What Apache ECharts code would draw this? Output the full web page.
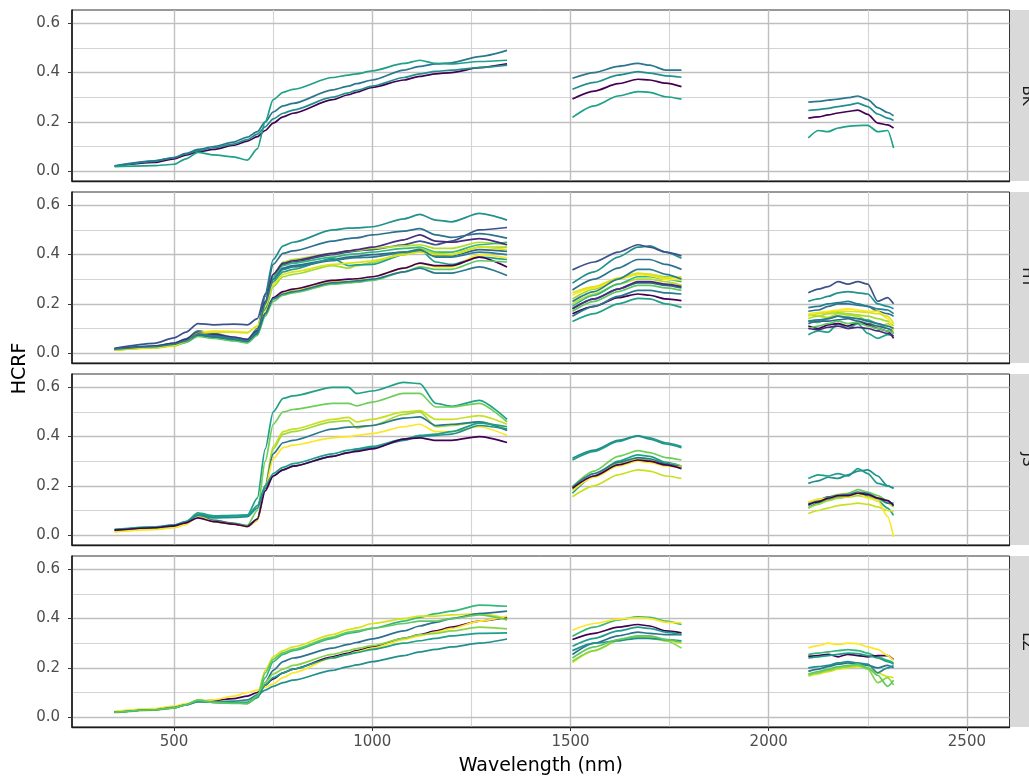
<!DOCTYPE html>
<html>
<head>
<meta charset="utf-8">
<script src="https://cdn.jsdelivr.net/npm/echarts@6/dist/echarts.min.js"></script>
<style>
  html, body { margin: 0; padding: 0; background: #ffffff; }
  #chart { width: 1029px; height: 780px; }
</style>
</head>
<body>
<div id="chart"></div>
<script>
// ---- wavelength sampling of the three usable spectral windows (nm) ----
const WL_VNIR  = [350, 450, 500, 530, 560, 600, 650, 685, 710, 730, 750, 775, 800, 900, 940, 960, 1000, 1080, 1120, 1160, 1200, 1270, 1340];
const WL_SWIR1 = [1505, 1560, 1620, 1670, 1700, 1740, 1780];
const WL_SWIR2 = [2100, 2125, 2150, 2175, 2200, 2225, 2250, 2275, 2300, 2315];

// ---- facets and axis ticks ----
const SITES = ['BK', 'HY', 'JS', 'LZ'];
const X_TICKS = [500, 1000, 1500, 2000, 2500];
const X_MINOR = [750, 1250, 1750, 2250];
const Y_TICKS = [0, 0.2, 0.4, 0.6];
const Y_MINOR = [0.1, 0.3, 0.5];

// ---- BK ----
const BK_COLORS = ['#440154', '#21908c', '#2a788e', '#1fa187'];
const BK_VNIR = [
  [0.02, 0.035, 0.05, 0.065, 0.078, 0.088, 0.105, 0.122, 0.14, 0.165, 0.195, 0.22, 0.235, 0.29, 0.31, 0.32, 0.34, 0.37, 0.385, 0.395, 0.4, 0.42, 0.435],
  [0.02, 0.04, 0.055, 0.07, 0.083, 0.095, 0.11, 0.128, 0.15, 0.18, 0.212, 0.235, 0.248, 0.3, 0.318, 0.328, 0.345, 0.38, 0.395, 0.405, 0.41, 0.42, 0.43],
  [0.022, 0.042, 0.055, 0.072, 0.088, 0.1, 0.118, 0.138, 0.16, 0.2, 0.24, 0.265, 0.275, 0.33, 0.345, 0.355, 0.37, 0.41, 0.425, 0.435, 0.44, 0.465, 0.49],
  [0.018, 0.022, 0.028, 0.05, 0.076, 0.066, 0.058, 0.045, 0.09, 0.2, 0.29, 0.32, 0.332, 0.38, 0.39, 0.395, 0.407, 0.437, 0.45, 0.437, 0.435, 0.445, 0.45]
];
const BK_SWIR1 = [
  [0.293, 0.325, 0.355, 0.373, 0.37, 0.357, 0.343],
  [0.332, 0.36, 0.39, 0.404, 0.398, 0.387, 0.381],
  [0.377, 0.4, 0.425, 0.437, 0.43, 0.41, 0.41],
  [0.218, 0.265, 0.305, 0.323, 0.32, 0.302, 0.292]
];
const BK_SWIR2 = [
  [0.215, 0.22, 0.228, 0.236, 0.242, 0.248, 0.23, 0.195, 0.188, 0.175],
  [0.246, 0.25, 0.255, 0.262, 0.268, 0.276, 0.262, 0.232, 0.215, 0.206],
  [0.28, 0.283, 0.288, 0.292, 0.298, 0.305, 0.29, 0.258, 0.238, 0.225],
  [0.135, 0.165, 0.16, 0.175, 0.182, 0.185, 0.186, 0.16, 0.165, 0.094]
];

// ---- HY ----
const HY_COLORS = ['#21918c', '#3b528b', '#2c728e', '#b5de2b', '#35b779', '#31688e', '#a0da39', '#1fa187',
                   '#fde725', '#440154', '#5ec962', '#2a788e', '#472d7b', '#dde318', '#287d8e'];
const HY_VNIR = [
  [0.018, 0.03, 0.04, 0.058, 0.09, 0.08, 0.065, 0.055, 0.1, 0.24, 0.38, 0.435, 0.45, 0.5, 0.507, 0.508, 0.513, 0.545, 0.563, 0.54, 0.533, 0.567, 0.54],
  [0.02, 0.04, 0.062, 0.085, 0.12, 0.115, 0.118, 0.115, 0.14, 0.24, 0.32, 0.36, 0.37, 0.4, 0.41, 0.415, 0.42, 0.44, 0.455, 0.44, 0.455, 0.5, 0.51],
  [0.018, 0.028, 0.04, 0.055, 0.085, 0.075, 0.062, 0.05, 0.09, 0.23, 0.36, 0.405, 0.415, 0.455, 0.465, 0.468, 0.48, 0.495, 0.505, 0.48, 0.47, 0.485, 0.467],
  [0.015, 0.025, 0.035, 0.05, 0.078, 0.07, 0.058, 0.05, 0.085, 0.2, 0.32, 0.37, 0.38, 0.405, 0.415, 0.418, 0.425, 0.435, 0.44, 0.425, 0.425, 0.45, 0.44],
  [0.014, 0.024, 0.033, 0.048, 0.075, 0.066, 0.055, 0.045, 0.08, 0.19, 0.31, 0.355, 0.365, 0.39, 0.4, 0.403, 0.41, 0.425, 0.43, 0.41, 0.41, 0.44, 0.45],
  [0.016, 0.026, 0.036, 0.05, 0.08, 0.07, 0.06, 0.052, 0.088, 0.2, 0.3, 0.345, 0.355, 0.38, 0.39, 0.393, 0.4, 0.41, 0.415, 0.395, 0.395, 0.42, 0.413],
  [0.013, 0.022, 0.03, 0.045, 0.072, 0.065, 0.055, 0.046, 0.075, 0.17, 0.27, 0.31, 0.32, 0.355, 0.345, 0.355, 0.368, 0.405, 0.425, 0.405, 0.4, 0.43, 0.43],
  [0.014, 0.022, 0.03, 0.045, 0.07, 0.062, 0.052, 0.044, 0.075, 0.18, 0.29, 0.33, 0.34, 0.385, 0.355, 0.358, 0.36, 0.4, 0.42, 0.37, 0.36, 0.39, 0.38],
  [0.012, 0.02, 0.028, 0.05, 0.085, 0.09, 0.088, 0.085, 0.11, 0.17, 0.22, 0.245, 0.255, 0.29, 0.29, 0.3, 0.31, 0.345, 0.365, 0.35, 0.35, 0.4, 0.387],
  [0.015, 0.025, 0.035, 0.048, 0.072, 0.066, 0.058, 0.05, 0.08, 0.16, 0.225, 0.25, 0.26, 0.295, 0.3, 0.302, 0.31, 0.345, 0.365, 0.355, 0.355, 0.39, 0.35],
  [0.013, 0.022, 0.03, 0.044, 0.068, 0.06, 0.05, 0.042, 0.072, 0.15, 0.21, 0.235, 0.245, 0.28, 0.285, 0.288, 0.295, 0.33, 0.35, 0.34, 0.34, 0.375, 0.37],
  [0.015, 0.025, 0.034, 0.048, 0.074, 0.066, 0.056, 0.048, 0.08, 0.16, 0.22, 0.24, 0.25, 0.285, 0.29, 0.293, 0.3, 0.33, 0.345, 0.325, 0.325, 0.35, 0.315],
  [0.017, 0.028, 0.04, 0.056, 0.085, 0.076, 0.064, 0.056, 0.09, 0.21, 0.32, 0.365, 0.375, 0.405, 0.415, 0.42, 0.43, 0.46, 0.48, 0.455, 0.45, 0.465, 0.44],
  [0.012, 0.022, 0.03, 0.048, 0.08, 0.085, 0.085, 0.082, 0.11, 0.19, 0.28, 0.32, 0.33, 0.36, 0.365, 0.368, 0.375, 0.4, 0.41, 0.4, 0.4, 0.43, 0.42],
  [0.016, 0.026, 0.036, 0.05, 0.078, 0.07, 0.06, 0.05, 0.085, 0.2, 0.3, 0.34, 0.35, 0.375, 0.385, 0.388, 0.39, 0.41, 0.42, 0.39, 0.39, 0.41, 0.4]
];
const HY_SWIR1 = [
  [0.284, 0.33, 0.39, 0.43, 0.435, 0.41, 0.385],
  [0.338, 0.37, 0.41, 0.44, 0.43, 0.41, 0.395],
  [0.256, 0.3, 0.345, 0.38, 0.38, 0.36, 0.34],
  [0.2, 0.24, 0.28, 0.3, 0.3, 0.29, 0.275],
  [0.19, 0.235, 0.28, 0.31, 0.31, 0.3, 0.29],
  [0.18, 0.22, 0.26, 0.285, 0.285, 0.275, 0.265],
  [0.22, 0.26, 0.3, 0.32, 0.32, 0.31, 0.305],
  [0.128, 0.16, 0.2, 0.222, 0.22, 0.2, 0.186],
  [0.236, 0.265, 0.3, 0.32, 0.315, 0.3, 0.297],
  [0.16, 0.19, 0.225, 0.24, 0.235, 0.22, 0.213],
  [0.17, 0.21, 0.25, 0.275, 0.275, 0.265, 0.255],
  [0.15, 0.19, 0.23, 0.255, 0.255, 0.245, 0.24],
  [0.18, 0.22, 0.26, 0.29, 0.29, 0.28, 0.27],
  [0.245, 0.27, 0.305, 0.325, 0.32, 0.305, 0.31],
  [0.21, 0.25, 0.3, 0.34, 0.34, 0.32, 0.3]
];
const HY_SWIR2 = [
  [0.21, 0.22, 0.23, 0.245, 0.25, 0.245, 0.24, 0.2, 0.19, 0.18],
  [0.245, 0.26, 0.27, 0.29, 0.28, 0.29, 0.28, 0.21, 0.225, 0.2],
  [0.17, 0.175, 0.19, 0.2, 0.2, 0.195, 0.19, 0.17, 0.16, 0.15],
  [0.14, 0.15, 0.145, 0.16, 0.155, 0.15, 0.13, 0.1, 0.12, 0.1],
  [0.13, 0.125, 0.14, 0.15, 0.145, 0.14, 0.135, 0.12, 0.1, 0.08],
  [0.12, 0.13, 0.13, 0.135, 0.14, 0.13, 0.12, 0.11, 0.1, 0.09],
  [0.155, 0.15, 0.16, 0.165, 0.16, 0.155, 0.15, 0.14, 0.13, 0.11],
  [0.075, 0.09, 0.085, 0.12, 0.1, 0.12, 0.08, 0.06, 0.075, 0.07],
  [0.16, 0.165, 0.17, 0.175, 0.18, 0.175, 0.17, 0.17, 0.14, 0.09],
  [0.11, 0.1, 0.115, 0.12, 0.11, 0.125, 0.115, 0.1, 0.09, 0.06],
  [0.1, 0.11, 0.12, 0.13, 0.12, 0.125, 0.11, 0.1, 0.09, 0.08],
  [0.13, 0.135, 0.14, 0.15, 0.145, 0.14, 0.13, 0.12, 0.11, 0.1],
  [0.1, 0.095, 0.105, 0.11, 0.1, 0.105, 0.1, 0.09, 0.08, 0.07],
  [0.15, 0.16, 0.165, 0.17, 0.17, 0.168, 0.165, 0.16, 0.15, 0.12],
  [0.185, 0.19, 0.2, 0.205, 0.21, 0.2, 0.19, 0.18, 0.175, 0.16]
];

// ---- JS ----
const JS_COLORS = ['#1fa187', '#6ece58', '#c8e020', '#a0da39', '#2a788e', '#fde725', '#1f9e89', '#21908c', '#440154'];
const JS_VNIR = [
  [0.022, 0.032, 0.04, 0.055, 0.09, 0.078, 0.08, 0.082, 0.15, 0.35, 0.5, 0.555, 0.565, 0.6, 0.6, 0.575, 0.585, 0.62, 0.615, 0.535, 0.523, 0.547, 0.47],
  [0.018, 0.028, 0.035, 0.05, 0.085, 0.06, 0.048, 0.04, 0.1, 0.3, 0.45, 0.5, 0.51, 0.535, 0.535, 0.525, 0.54, 0.575, 0.575, 0.52, 0.52, 0.535, 0.46],
  [0.015, 0.025, 0.032, 0.045, 0.08, 0.055, 0.045, 0.035, 0.06, 0.2, 0.36, 0.42, 0.43, 0.47, 0.478, 0.46, 0.47, 0.5, 0.505, 0.47, 0.47, 0.485, 0.45],
  [0.015, 0.025, 0.032, 0.045, 0.08, 0.055, 0.045, 0.035, 0.06, 0.2, 0.35, 0.41, 0.42, 0.46, 0.465, 0.435, 0.445, 0.49, 0.5, 0.44, 0.445, 0.46, 0.43],
  [0.02, 0.03, 0.038, 0.05, 0.082, 0.06, 0.048, 0.038, 0.065, 0.2, 0.33, 0.375, 0.385, 0.43, 0.438, 0.44, 0.445, 0.475, 0.48, 0.445, 0.45, 0.46, 0.425],
  [0.013, 0.022, 0.03, 0.044, 0.078, 0.055, 0.045, 0.035, 0.06, 0.19, 0.31, 0.355, 0.365, 0.395, 0.4, 0.405, 0.412, 0.44, 0.45, 0.42, 0.42, 0.44, 0.405],
  [0.024, 0.034, 0.042, 0.055, 0.085, 0.075, 0.078, 0.078, 0.12, 0.2, 0.25, 0.275, 0.29, 0.33, 0.345, 0.35, 0.36, 0.39, 0.405, 0.41, 0.42, 0.455, 0.44],
  [0.022, 0.032, 0.04, 0.052, 0.08, 0.07, 0.072, 0.075, 0.11, 0.19, 0.24, 0.265, 0.28, 0.32, 0.335, 0.345, 0.355, 0.385, 0.4, 0.405, 0.41, 0.445, 0.43],
  [0.02, 0.03, 0.038, 0.05, 0.07, 0.055, 0.045, 0.035, 0.065, 0.18, 0.24, 0.265, 0.28, 0.32, 0.335, 0.34, 0.35, 0.39, 0.395, 0.385, 0.385, 0.4, 0.376]
];
const JS_SWIR1 = [
  [0.17, 0.24, 0.3, 0.326, 0.32, 0.295, 0.28],
  [0.197, 0.26, 0.32, 0.343, 0.335, 0.315, 0.305],
  [0.156, 0.2, 0.245, 0.265, 0.26, 0.24, 0.23],
  [0.185, 0.24, 0.29, 0.31, 0.305, 0.29, 0.28],
  [0.195, 0.25, 0.295, 0.315, 0.31, 0.29, 0.275],
  [0.18, 0.235, 0.28, 0.3, 0.295, 0.28, 0.275],
  [0.305, 0.34, 0.38, 0.403, 0.395, 0.375, 0.36],
  [0.312, 0.345, 0.385, 0.403, 0.39, 0.37, 0.355],
  [0.19, 0.24, 0.285, 0.305, 0.3, 0.285, 0.27]
];
const JS_SWIR2 = [
  [0.11, 0.13, 0.145, 0.155, 0.16, 0.17, 0.16, 0.14, 0.11, 0.08],
  [0.13, 0.145, 0.155, 0.165, 0.17, 0.185, 0.175, 0.16, 0.14, 0.12],
  [0.088, 0.1, 0.11, 0.12, 0.125, 0.13, 0.125, 0.115, 0.1, 0.095],
  [0.11, 0.125, 0.14, 0.15, 0.155, 0.16, 0.155, 0.145, 0.13, 0.115],
  [0.12, 0.14, 0.155, 0.16, 0.165, 0.175, 0.17, 0.15, 0.13, 0.13],
  [0.135, 0.145, 0.15, 0.16, 0.155, 0.17, 0.15, 0.14, 0.075, -0.007],
  [0.23, 0.245, 0.24, 0.25, 0.24, 0.27, 0.25, 0.21, 0.2, 0.19],
  [0.21, 0.22, 0.235, 0.23, 0.245, 0.26, 0.265, 0.24, 0.2, 0.19],
  [0.125, 0.135, 0.15, 0.16, 0.16, 0.17, 0.165, 0.15, 0.14, 0.12]
];

// ---- LZ ----
const LZ_COLORS = ['#35b779', '#d8e219', '#2c728e', '#440154', '#fde725', '#86d549', '#1f9e89', '#21908c', '#5ec962'];
const LZ_VNIR = [
  [0.02, 0.03, 0.038, 0.05, 0.068, 0.06, 0.058, 0.056, 0.08, 0.16, 0.225, 0.255, 0.27, 0.32, 0.34, 0.345, 0.36, 0.39, 0.405, 0.42, 0.43, 0.455, 0.45],
  [0.02, 0.03, 0.038, 0.05, 0.07, 0.062, 0.06, 0.058, 0.09, 0.19, 0.245, 0.27, 0.285, 0.335, 0.355, 0.362, 0.38, 0.4, 0.41, 0.41, 0.415, 0.42, 0.4],
  [0.022, 0.032, 0.04, 0.05, 0.065, 0.062, 0.06, 0.06, 0.08, 0.14, 0.19, 0.225, 0.24, 0.28, 0.295, 0.303, 0.318, 0.35, 0.37, 0.385, 0.4, 0.42, 0.43],
  [0.02, 0.03, 0.04, 0.052, 0.065, 0.068, 0.075, 0.085, 0.1, 0.13, 0.155, 0.18, 0.195, 0.245, 0.26, 0.27, 0.285, 0.32, 0.335, 0.35, 0.365, 0.39, 0.405],
  [0.025, 0.035, 0.045, 0.055, 0.062, 0.07, 0.085, 0.1, 0.11, 0.122, 0.135, 0.16, 0.18, 0.24, 0.255, 0.265, 0.28, 0.315, 0.33, 0.345, 0.36, 0.39, 0.41],
  [0.018, 0.028, 0.036, 0.05, 0.07, 0.062, 0.058, 0.056, 0.08, 0.14, 0.175, 0.195, 0.21, 0.255, 0.27, 0.278, 0.29, 0.32, 0.335, 0.34, 0.35, 0.365, 0.358],
  [0.02, 0.03, 0.038, 0.05, 0.065, 0.06, 0.058, 0.058, 0.08, 0.13, 0.16, 0.18, 0.195, 0.24, 0.255, 0.262, 0.275, 0.3, 0.31, 0.32, 0.33, 0.34, 0.342],
  [0.02, 0.03, 0.04, 0.05, 0.062, 0.062, 0.065, 0.07, 0.09, 0.11, 0.125, 0.14, 0.15, 0.19, 0.205, 0.212, 0.225, 0.25, 0.265, 0.275, 0.285, 0.3, 0.317],
  [0.02, 0.03, 0.038, 0.05, 0.068, 0.06, 0.056, 0.055, 0.085, 0.18, 0.235, 0.262, 0.275, 0.325, 0.345, 0.35, 0.36, 0.38, 0.39, 0.39, 0.4, 0.415, 0.395]
];
const LZ_SWIR1 = [
  [0.328, 0.365, 0.395, 0.407, 0.405, 0.39, 0.376],
  [0.222, 0.27, 0.31, 0.328, 0.325, 0.31, 0.3],
  [0.254, 0.3, 0.33, 0.345, 0.34, 0.335, 0.335],
  [0.315, 0.34, 0.365, 0.376, 0.37, 0.35, 0.342],
  [0.353, 0.38, 0.398, 0.403, 0.4, 0.385, 0.383],
  [0.227, 0.27, 0.31, 0.325, 0.32, 0.31, 0.28],
  [0.288, 0.32, 0.35, 0.365, 0.36, 0.345, 0.335],
  [0.27, 0.3, 0.31, 0.32, 0.32, 0.315, 0.31],
  [0.24, 0.285, 0.315, 0.33, 0.33, 0.315, 0.305]
];
const LZ_SWIR2 = [
  [0.254, 0.26, 0.265, 0.27, 0.274, 0.27, 0.26, 0.245, 0.23, 0.22],
  [0.166, 0.175, 0.185, 0.195, 0.2, 0.205, 0.2, 0.18, 0.165, 0.16],
  [0.186, 0.195, 0.205, 0.215, 0.22, 0.215, 0.21, 0.2, 0.21, 0.2],
  [0.247, 0.25, 0.255, 0.245, 0.255, 0.25, 0.245, 0.25, 0.25, 0.233],
  [0.281, 0.29, 0.3, 0.295, 0.3, 0.298, 0.285, 0.275, 0.25, 0.23],
  [0.17, 0.18, 0.19, 0.2, 0.205, 0.21, 0.195, 0.14, 0.16, 0.13],
  [0.24, 0.245, 0.25, 0.255, 0.26, 0.258, 0.25, 0.24, 0.225, 0.215],
  [0.2, 0.205, 0.21, 0.22, 0.225, 0.22, 0.215, 0.18, 0.2, 0.21],
  [0.175, 0.185, 0.195, 0.205, 0.21, 0.215, 0.2, 0.17, 0.125, 0.15]
];

const SITE_DATA = [
  { colors: BK_COLORS, vnir: BK_VNIR, swir1: BK_SWIR1, swir2: BK_SWIR2 },
  { colors: HY_COLORS, vnir: HY_VNIR, swir1: HY_SWIR1, swir2: HY_SWIR2 },
  { colors: JS_COLORS, vnir: JS_VNIR, swir1: JS_SWIR1, swir2: JS_SWIR2 },
  { colors: LZ_COLORS, vnir: LZ_VNIR, swir1: LZ_SWIR1, swir2: LZ_SWIR2 }
];

// ---- layout ----
const PANEL_LEFT = 72;
const PANEL_WIDTH = 937.5;
const PANEL_HEIGHT = 171;
const PANEL_TOPS = [10, 192, 374, 556];
const X_RANGE = [242.5, 2607.5];
const Y_RANGE = [-0.04, 0.654];
const FONT = 'DejaVu Sans';

// one spectrum: three windows separated by gaps (water absorption bands removed)
function spectrum(v, s1, s2) {
  const pts = WL_VNIR.map((w, j) => [w, v[j]]);
  pts.push([1420, '-']);
  WL_SWIR1.forEach((w, j) => pts.push([w, s1[j]]));
  pts.push([1940, '-']);
  WL_SWIR2.forEach((w, j) => pts.push([w, s2[j]]));
  return pts;
}

const grids = [], xAxes = [], yAxes = [], series = [], graphics = [];
const last = SITES.length - 1;

SITES.forEach((site, i) => {
  grids.push({
    left: PANEL_LEFT, top: PANEL_TOPS[i], width: PANEL_WIDTH, height: PANEL_HEIGHT,
    show: true, borderColor: '#333333', borderWidth: 1, backgroundColor: '#ffffff'
  });
  // major x axis (labels on the bottom facet only)
  xAxes.push({
    type: 'value', gridIndex: i, min: X_RANGE[0], max: X_RANGE[1], position: 'bottom',
    axisLine: { show: true, onZero: false, lineStyle: { color: '#1a1a1a', width: 1.3 } },
    axisTick: { show: true, customValues: X_TICKS, length: i === last ? 4 : 0, lineStyle: { color: '#333333' } },
    axisLabel: {
      show: i === last, customValues: X_TICKS, fontFamily: FONT, fontSize: 15, color: '#4d4d4d', margin: 8,
      formatter: v => String(v)
    },
    splitLine: { show: true, lineStyle: { color: '#bfbfbf', width: 1.4 } },
    z: 1
  });
  // minor x grid
  xAxes.push({
    type: 'value', gridIndex: i, min: X_RANGE[0], max: X_RANGE[1], position: 'top',
    axisLine: { show: false }, axisLabel: { show: false },
    axisTick: { show: false, customValues: X_MINOR },
    splitLine: { show: true, lineStyle: { color: '#d4d4d4', width: 1.1 } },
    z: 0
  });
  // major y axis
  yAxes.push({
    type: 'value', gridIndex: i, min: Y_RANGE[0], max: Y_RANGE[1], position: 'left',
    axisLine: { show: true, onZero: false, lineStyle: { color: '#1a1a1a', width: 1.6 } },
    axisTick: { show: true, customValues: Y_TICKS, length: 4, lineStyle: { color: '#333333' } },
    axisLabel: {
      customValues: Y_TICKS, fontFamily: FONT, fontSize: 15, color: '#4d4d4d', margin: 12,
      formatter: v => v.toFixed(1)
    },
    splitLine: { show: true, lineStyle: { color: '#bfbfbf', width: 1.4 } },
    z: 1
  });
  // minor y grid
  yAxes.push({
    type: 'value', gridIndex: i, min: Y_RANGE[0], max: Y_RANGE[1], position: 'right',
    axisLine: { show: false }, axisLabel: { show: false },
    axisTick: { show: false, customValues: Y_MINOR },
    splitLine: { show: true, lineStyle: { color: '#d4d4d4', width: 1.1 } },
    z: 0
  });

  const d = SITE_DATA[i];
  d.vnir.forEach((v, k) => {
    series.push({
      type: 'line', name: site + '-' + (k + 1),
      xAxisIndex: 2 * i, yAxisIndex: 2 * i,
      data: spectrum(v, d.swir1[k], d.swir2[k]),
      showSymbol: false, symbol: 'none', connectNulls: false, silent: true,
      smooth: 0.25, smoothMonotone: 'x',
      lineStyle: { width: 1.7, color: d.colors[k] },
      itemStyle: { color: d.colors[k] },
      z: 3
    });
  });

  // facet strip on the right
  graphics.push({
    type: 'rect', silent: true,
    shape: { x: PANEL_LEFT + PANEL_WIDTH + 0.5, y: PANEL_TOPS[i], width: 30, height: PANEL_HEIGHT },
    style: { fill: '#d9d9d9' }
  });
  graphics.push({
    type: 'text', silent: true,
    x: 1027, y: PANEL_TOPS[i] + PANEL_HEIGHT / 2, rotation: -Math.PI / 2,
    style: { text: site, font: '15px "DejaVu Sans"', fill: '#1a1a1a', align: 'center', verticalAlign: 'middle' }
  });
});

// axis titles
graphics.push({
  type: 'text', silent: true, x: 20, y: (PANEL_TOPS[0] + PANEL_TOPS[last] + PANEL_HEIGHT) / 2,
  rotation: Math.PI / 2,
  style: { text: 'HCRF', font: '19px "DejaVu Sans"', fill: '#000000', align: 'center', verticalAlign: 'middle' }
});
graphics.push({
  type: 'text', silent: true, x: PANEL_LEFT + PANEL_WIDTH / 2, y: 766,
  style: { text: 'Wavelength (nm)', font: '19px "DejaVu Sans"', fill: '#000000', align: 'center', verticalAlign: 'middle' }
});

const chart = echarts.init(document.getElementById('chart'), null, { renderer: 'canvas' });
chart.setOption({
  animation: false,
  backgroundColor: '#ffffff',
  grid: grids,
  xAxis: xAxes,
  yAxis: yAxes,
  series: series,
  graphic: graphics
});
</script>
</body>
</html>
